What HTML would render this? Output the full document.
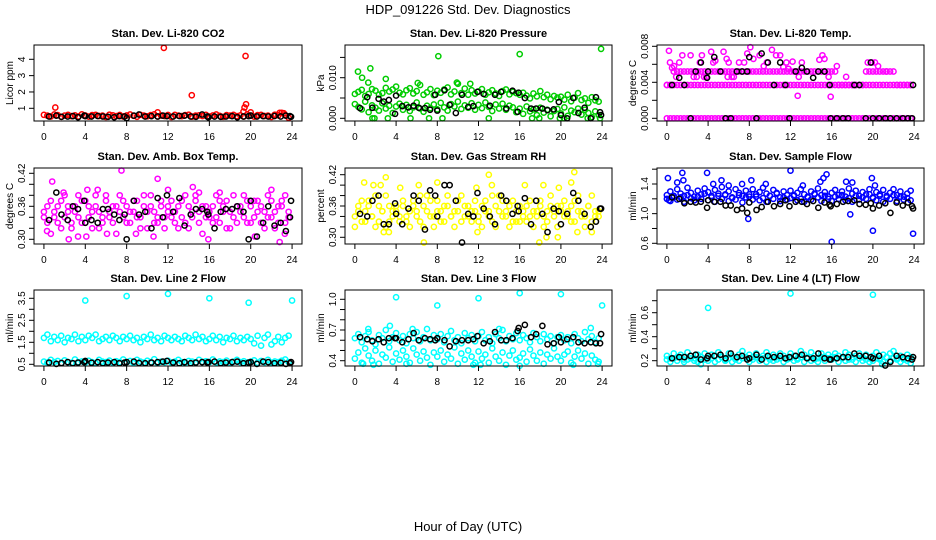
<!DOCTYPE html>
<html><head><meta charset="utf-8"><style>
html,body{margin:0;padding:0;background:#fff;}
svg{display:block;font-family:"Liberation Sans",sans-serif;}
</style></head><body>
<svg id="chart" width="936" height="540" viewBox="0 0 936 540">
<text x="468" y="14" text-anchor="middle" font-size="13">HDP_091226  Std. Dev. Diagnostics</text>
<text x="468" y="531" text-anchor="middle" font-size="13">Hour of Day (UTC)</text>
</svg>
<script>
// shared sampling: colored series are sampled every 1/3 hour (index/3)
const blackHours=[0.5,1.2,1.7,2.3,2.8,3.3,3.9,4.0,4.6,5.2,5.7,6.2,6.8,7.3,7.8,8.0,8.7,9.2,9.8,10.4,11.0,11.5,11.9,12.5,13.1,13.6,14.2,14.7,15.3,15.8,15.9,16.5,17.1,17.6,18.2,18.7,19.3,19.8,20.0,20.6,21.2,21.7,22.3,22.9,23.4,23.8,23.9];
const xTicks=[0,4,8,12,16,20,24];

// Panel 1: CO2
const co2Main=[.6,.55,.5,.62,.58,.48,.55,.6,.52,.57,.5,.63,.56,.49,.58,.6,.53,.55,.47,.61,.57,.52,.59,.5,.56,.62,.54,.48,.6,.55,.51,.58,.63,.5,.56,.53,.59,.47,.6,.55,.52,.58,.61,.49,.55,.57,.53,.6,.5,.56,.62,.54,.48,.58,.55,.6,.52,.57,.5,.63,.56,.49,.58,.6,.53,.55,.47,.61,.57,.72,.59,.42];
const co2OutHours=[1.1,11.6,11,14.3,19.3,19.4,19.55,19.5,20,22.8,23.2];
const co2OutVals=[1.05,4.7,.75,1.8,.8,1.05,1.25,4.2,.75,.72,.7];
const co2Black=[.5,.55,.48,.5,.52,.45,.55,.52,.5,.53,.5,.48,.45,.52,.5,.4,.55,.62,.5,.52,.5,.55,.52,.5,.53,.55,.5,.48,.62,.5,.45,.5,.48,.5,.52,.45,.5,.52,.55,.5,.52,.5,.53,.5,.55,.52,.48];

// Panel 2: Pressure
const presHigh=[.006,.0065,.007,.0055,.006,.0072,.0068,.0058,.0062,.0075,.0066,.0071,.0078,.0063,.0059,.0069,.0074,.0061,.0067,.0082,.0058,.0064,.0072,.0057,.0068,.0063,.0071,.0076,.0059,.0066,.0085,.0062,.0073,.0058,.0069,.0061,.0066,.0072,.0058,.0064,.0069,.0061,.0055,.0067,.0071,.0059,.0065,.0062,.0058,.0063,.0056,.0049,.0061,.0054,.0067,.0052,.0058,.0047,.0055,.0051,.0053,.0046,.0058,.0042,.0051,.0062,.0045,.0049,.0038,.0052,.0044,.0041];
const presLow=[.0035,.0028,.0022,.0041,.0015,.0032,.0026,.0019,.0037,.0024,.0031,.0013,.0029,.0036,.0021,.0033,.0018,.0027,.0039,.0024,.0016,.0031,.0025,.0034,.0022,.0038,.0027,.0019,.0035,.0029,.0041,.0023,.0032,.0026,.0037,.0021,.0033,.0025,.0039,.0028,.0018,.0034,.0024,.0036,.0021,.0031,.0027,.0015,.0024,.0011,.0029,.0017,.0022,.0008,.0026,.0014,.0021,.0005,.0018,.0023,.0012,.0027,.0006,.0019,.0015,.0024,.0009,.0021,.0013,.0003,.0017,.0008];
const presOutHours=[0.3,0.7,1.5,1.3,3.0,8.1,16,23.9,1.7,1.9,3.2,5.4,7.2,8.5,13,17.2,17.9,19.9,20.3,22.6,23.8,9.9,11.2,6.1];
const presOutVals=[.0115,.0100,.0123,.0088,.0097,.0153,.0158,.0171,0,0,0,0,0,0,0,0,0,0,0,0,0,.0088,.0085,.0087];
const presBlack=[.0025,.0052,.0026,.0048,.0041,.0045,.0011,.0056,.0030,.0027,.0031,.0026,.0025,.0021,.0058,.0019,.0069,.0033,.0013,.0058,.0028,.0030,.0065,.0060,.0031,.0058,.0065,.0024,.0068,.0016,.0063,.0050,.0024,.0024,.0024,.0020,.0022,.0040,.0008,0,.0050,.0013,.0026,0,.0052,.0015,.0008];

// Panel 3: Li-820 Temp
const tempZero=[0,0,0,0,0,0,0,0,0,0,0,0,0,0,0,0,0,0,0,0,0,0,0,0,0,0,0,0,0,0,0,0,0,0,0,0,0,0,0,0,0,0,0,0,0,0,0,0,0,0,0,0,0,0,0,0,0,0,0,0,0,0,0,0,0,0,0,0,0,0,0,0];
const tempMid=[.0037,.0037,.0037,.0037,.0037,.0037,.0037,.0037,.0037,.0037,.0037,.0037,.0037,.0037,.0037,.0037,.0037,.0037,.0037,.0037,.0037,.0037,.0037,.0037,.0037,.0037,.0037,.0037,.0037,.0037,.0037,.0037,.0037,.0037,.0037,.0037,.0037,.0037,.0037,.0037,.0037,.0037,.0037,.0037,.0037,.0037,.0037,.0037,.0037,.0037,.0037,.0037,.0037,.0037,.0037,.0037,.0037,.0037,.0037,.0037,.0037,.0037,.0037,.0037,.0037,.0037,.0037,.0037,.0037,.0037,.0037,.0037];
const tempHigh=[.0037,.0037,.0052,.0052,.0052,.0052,.0052,.0052,.0052,.0052,.0052,.0052,.0052,.0052,.0052,.0052,.0052,.0052,.0052,.0052,.0052,.0052,.0052,.0052,.0052,.0052,.0052,.0052,.0052,.0052,.0052,.0052,.0052,.0052,.0052,.0052,.0052,.0052,.0052,.0052,.0052,.0052,.0052,.0052,.0052,.0052,.0052,.0052,.0052,.0052,.0037,.0037,.0037,.0037,.0037,.0037,.0037,.0037,.0052,.0052,.0052,.0052,.0052,.0052,.0052,.0052,.0052,.0037,.0037,.0037,.0037,.0037];
const tempOutHours=[0.2,0.3,0.5,0.7,1.2,1.5,2.3,2.6,3.2,3.4,3.6,4.3,4.7,5.5,5.8,6.0,6.5,7.0,7.5,8.1,8.4,9.0,9.4,9.7,10.2,10.6,11.0,11.3,11.6,11.8,12.2,12.7,13.1,14.8,15.1,15.3,15.9,16.5,17.4,19.5,19.9,20.2,20.5,21.3,0.9,2.9,3.8,4.5,5.9,6.3,7.8,12.8,15.7];
const tempOutVals=[.0075,.0062,.0056,.0058,.0062,.007,.007,.0046,.0062,.007,.0046,.0074,.0064,.0074,.0066,.0062,.0046,.0062,.0062,.0079,.0066,.007,.0058,.0062,.0076,.007,.007,.0057,.0062,.0055,.0063,.0025,.0062,.0065,.0070,.0066,.0024,.0058,.0046,.0062,.0062,.0062,.0058,.0052,.0046,.0046,.0046,.0062,.0046,.0046,.0072,.0046,.0046];
const tempBlack=[.0037,.0045,.0037,0,.0052,.0062,.0045,.0052,.0068,.0052,0,0,.0052,.0052,.0052,.0068,0,.0072,.0062,.0037,.0062,.0037,0,.0052,.0056,.0052,.0045,.0052,.0052,.0037,0,0,0,0,.0037,.0037,0,.0062,0,0,0,0,0,0,0,0,.0037];

// Panel 4: Amb Box Temp
const ambA=[.35,.33,.37,.34,.36,.32,.38,.35,.33,.36,.34,.37,.33,.36,.35,.38,.32,.34,.37,.35,.33,.36,.38,.34,.36,.33,.35,.37,.34,.38,.32,.36,.35,.33,.37,.34,.35,.37,.33,.36,.34,.38,.32,.35,.37,.33,.36,.34,.34,.36,.38,.33,.35,.37,.32,.34,.36,.35,.38,.33,.36,.34,.37,.33,.35,.38,.34,.32,.36,.37,.33,.35];
const ambB=[.34,.36,.31,.35,.33,.37,.34,.36,.32,.35,.38,.33,.37,.34,.32,.36,.35,.33,.38,.34,.36,.31,.35,.37,.33,.35,.37,.34,.32,.36,.35,.38,.33,.34,.36,.32,.36,.34,.35,.32,.37,.33,.36,.34,.38,.35,.31,.36,.35,.33,.34,.37,.36,.32,.35,.38,.33,.36,.34,.37,.33,.37,.35,.36,.32,.34,.37,.35,.33,.36,.38,.34];
const ambOutHours=[0.8,1.9,4.2,5.2,7.5,11.0,12.0,14.4,15.0,17.0,22.0,0.3,2.4,3.3,4.1,10.6,15.9,22.8,20.4,23.3,6.1,8.9];
const ambOutVals=[.405,.385,.39,.39,.425,.41,.39,.395,.385,.385,.39,.315,.30,.305,.305,.305,.30,.295,.305,.31,.31,.31];
const ambBlack=[.335,.385,.345,.335,.36,.355,.37,.33,.335,.33,.355,.355,.345,.335,.345,.30,.37,.345,.35,.32,.375,.34,.38,.35,.375,.325,.345,.355,.355,.35,.345,.32,.35,.355,.355,.36,.35,.30,.37,.305,.33,.36,.325,.33,.315,.34,.37];

// Panel 5: Gas Stream RH
const rhA=[.34,.36,.33,.35,.37,.34,.32,.36,.35,.38,.33,.35,.36,.34,.37,.33,.35,.36,.34,.38,.32,.35,.37,.34,.35,.33,.36,.38,.34,.35,.37,.33,.36,.34,.35,.37,.33,.36,.35,.34,.38,.32,.35,.37,.34,.36,.33,.35,.36,.34,.33,.37,.35,.34,.36,.32,.35,.38,.34,.36,.35,.37,.34,.36,.33,.38,.35,.34,.36,.33,.35,.34];
const rhB=[.32,.35,.37,.33,.36,.34,.38,.33,.35,.32,.36,.34,.35,.33,.36,.34,.32,.37,.35,.33,.36,.38,.34,.32,.37,.35,.33,.36,.34,.32,.35,.38,.34,.36,.33,.35,.34,.32,.37,.35,.33,.36,.38,.34,.35,.32,.37,.33,.33,.35,.36,.34,.32,.35,.37,.34,.33,.36,.35,.32,.36,.34,.35,.33,.37,.35,.34,.32,.36,.38,.34,.35];
const rhOutHours=[0.9,1.8,2.5,3.0,4.4,6.2,8.0,11.8,13.0,13.3,16.5,18.3,19.8,21.0,21.3,6.7,17.9,18.6,19.7,2.8,3.3,11.9,21.6,23.0];
const rhOutVals=[.405,.40,.40,.415,.395,.40,.405,.395,.42,.40,.40,.40,.395,.405,.425,.29,.29,.30,.30,.31,.31,.31,.31,.31];
const rhBlack=[.345,.34,.37,.38,.325,.325,.365,.345,.325,.355,.38,.37,.315,.39,.38,.34,.40,.40,.37,.29,.345,.34,.385,.355,.34,.325,.38,.37,.345,.36,.35,.375,.325,.37,.345,.31,.355,.35,.325,.345,.385,.37,.345,.32,.33,.355,.355];

// Panel 6: Sample Flow
const flowA=[1.25,1.3,1.22,1.33,1.27,1.24,1.35,1.28,1.23,1.31,1.26,1.34,1.29,1.24,1.32,1.27,1.36,1.25,1.3,1.22,1.33,1.28,1.24,1.31,1.26,1.33,1.23,1.29,1.35,1.27,1.24,1.32,1.28,1.22,1.3,1.25,1.31,1.24,1.28,1.33,1.26,1.22,1.3,1.27,1.34,1.25,1.29,1.23,1.28,1.32,1.25,1.3,1.23,1.34,1.27,1.31,1.24,1.29,1.26,1.33,1.22,1.29,1.26,1.32,1.24,1.28,1.33,1.25,1.3,1.23,1.27,1.31];
const flowB=[1.2,1.17,1.24,1.19,1.22,1.16,1.25,1.21,1.18,1.23,1.2,1.27,1.18,1.22,1.16,1.24,1.2,1.26,1.17,1.21,1.19,1.25,1.15,1.22,1.23,1.19,1.26,1.18,1.21,1.16,1.24,1.2,1.27,1.17,1.22,1.19,1.21,1.25,1.18,1.2,1.16,1.23,1.19,1.26,1.22,1.17,1.24,1.2,1.17,1.23,1.2,1.25,1.18,1.21,1.16,1.24,1.19,1.22,1.2,1.26,1.21,1.18,1.24,1.16,1.22,1.2,1.25,1.17,1.23,1.19,1.21,1.18];
const flowOutHours=[0.1,1.0,1.5,1.6,3.9,4.5,5.3,6.0,7.3,8.2,9.6,12.0,13.2,14.9,15.2,15.5,17.4,17.8,18.0,19.9,20.2,0.2,7.9,16.0,20.0,23.9];
const flowOutVals=[1.48,1.42,1.55,1.45,1.55,1.4,1.45,1.38,1.4,1.45,1.4,1.58,1.38,1.43,1.48,1.53,1.43,0.99,1.42,1.48,1.38,1.18,0.93,0.62,0.77,0.73];
const flowBlack=[1.22,1.2,1.14,1.16,1.15,1.16,1.08,1.18,1.16,1.16,1.11,1.11,1.05,1.07,1.01,1.15,1.05,1.09,1.16,1.1,1.13,1.18,1.1,1.16,1.16,1.13,1.17,1.08,1.15,1.12,1.1,1.13,1.16,1.17,1.18,1.13,1.12,1.14,1.07,1.11,1.14,1.01,1.15,1.11,1.15,1.1,1.07];

// Panel 7: Line 2 Flow
const l2A=[1.7,1.85,1.55,1.75,1.6,1.8,1.5,1.7,1.65,1.85,1.55,1.75,1.6,1.8,1.7,1.85,1.55,1.65,1.75,1.6,1.8,1.7,1.55,1.75,1.65,1.8,1.6,1.7,1.5,1.75,1.65,1.85,1.6,1.7,1.55,1.8,1.7,1.6,1.75,1.65,1.55,1.8,1.7,1.6,1.85,1.65,1.75,1.55,1.65,1.8,1.6,1.75,1.5,1.7,1.65,1.8,1.55,1.7,1.6,1.75,1.65,1.45,1.8,1.35,1.7,1.85,1.4,1.55,1.75,1.5,1.7,1.8];
const l2B=[.62,.58,.7,.6,.65,.55,.68,.6,.57,.72,.6,.63,.58,.66,.6,.55,.7,.62,.6,.67,.57,.64,.6,.72,.6,.65,.57,.7,.62,.58,.66,.6,.73,.56,.62,.6,.66,.58,.62,.7,.6,.57,.65,.62,.59,.7,.61,.64,.6,.72,.58,.63,.6,.67,.56,.62,.7,.6,.64,.58,.62,.68,.57,.65,.6,.7,.58,.63,.6,.66,.72,.6];
const l2OutHours=[4,8,12,16,19.8,24];
const l2OutVals=[3.4,3.6,3.7,3.5,3.3,3.4];
const l2Black=[.58,.52,.56,.6,.55,.58,.6,.65,.57,.6,.55,.58,.6,.55,.58,.6,.62,.56,.55,.58,.6,.62,.65,.58,.55,.6,.55,.58,.6,.58,.6,.62,.55,.58,.6,.62,.55,.58,.6,.52,.62,.6,.55,.57,.52,.55,.6];

// Panel 8: Line 3 Flow
const l3A=[.62,.66,.58,.64,.68,.6,.56,.65,.62,.7,.59,.63,.67,.6,.64,.57,.66,.62,.68,.59,.63,.71,.6,.65,.61,.66,.58,.64,.69,.6,.63,.57,.67,.62,.65,.59,.64,.68,.6,.63,.57,.66,.62,.7,.59,.64,.61,.67,.6,.65,.62,.58,.67,.63,.59,.66,.61,.64,.57,.63,.65,.6,.63,.57,.66,.62,.59,.68,.61,.64,.58,.62];
const l3B=[.42,.48,.38,.52,.45,.4,.5,.37,.46,.43,.53,.39,.47,.41,.5,.44,.38,.52,.46,.4,.49,.43,.36,.48,.44,.5,.39,.46,.42,.53,.37,.47,.41,.5,.44,.38,.49,.42,.46,.38,.52,.44,.4,.48,.36,.45,.5,.41,.43,.47,.39,.51,.45,.4,.48,.37,.46,.42,.52,.44,.4,.46,.49,.38,.44,.5,.42,.47,.37,.45,.41,.39];
const l3OutHours=[4,8,12,16,20,24,1.3,3.4,5.6,14,22.9,0.8,1.8,5.0,11.5,12.2,16.0,21.2,23.6];
const l3OutVals=[1.02,.94,1.01,1.06,1.05,.94,.71,.74,.71,.71,.72,.37,.36,.37,.36,.36,.35,.36,.37];
const l3Black=[.63,.61,.59,.61,.58,.62,.62,.62,.58,.61,.67,.6,.62,.61,.6,.62,.6,.54,.59,.6,.6,.61,.64,.57,.59,.68,.6,.6,.62,.69,.72,.75,.63,.66,.74,.56,.57,.63,.58,.61,.63,.58,.57,.58,.57,.57,.66];

// Panel 9: Line 4 Flow
const l4A=[.24,.22,.26,.23,.25,.21,.27,.24,.22,.25,.23,.26,.22,.25,.24,.27,.23,.21,.26,.24,.22,.25,.28,.23,.25,.23,.26,.22,.24,.27,.23,.25,.21,.26,.24,.22,.26,.24,.22,.28,.25,.23,.27,.24,.22,.26,.23,.25,.23,.26,.24,.22,.27,.25,.21,.24,.26,.23,.25,.22,.24,.27,.22,.25,.23,.26,.28,.22,.24,.21,.25,.23];
const l4B=[.21,.19,.22,.2,.23,.19,.21,.22,.2,.19,.23,.21,.2,.22,.19,.21,.23,.2,.22,.19,.21,.2,.22,.23,.19,.21,.23,.2,.22,.19,.21,.2,.23,.22,.19,.21,.22,.2,.21,.23,.19,.22,.2,.21,.19,.23,.2,.22,.21,.23,.19,.22,.2,.21,.23,.19,.22,.2,.21,.19,.2,.22,.21,.19,.23,.2,.22,.21,.19,.22,.2,.18];
const l4OutHours=[4.0,12.0,20.0,3.3,20.9];
const l4OutVals=[.64,.76,.75,.17,.17];
const l4Black=[.22,.23,.23,.24,.25,.21,.22,.24,.24,.25,.22,.26,.23,.24,.21,.22,.25,.21,.24,.23,.24,.22,.23,.24,.25,.22,.22,.26,.22,.21,.21,.22,.23,.23,.26,.24,.24,.23,.22,.24,.16,.19,.24,.23,.22,.21,.23];

const svg=document.getElementById('chart');
const NS='http://www.w3.org/2000/svg';
function mk(tag,attrs,parent){const e=document.createElementNS(NS,tag);for(const k in attrs)e.setAttribute(k,attrs[k]);(parent||svg).appendChild(e);return e;}

// layout: plot boxes; y scale defined by two reference ticks (value->pixel)
const cols=[{l:34,r:302},{l:345,r:612},{l:657,r:924}];
const rows=[{t:45,b:121},{t:168,b:244},{t:290,b:366}];
const panels=[
 {title:'Stan. Dev. Li-820 CO2',ylab:'Licor ppm',col:'#ff0000',c:0,r:0,t1:1,p1:108.3,t2:4,p2:59.3,ticks:[1,2,3,4],labels:['1','2','3','4'],series:[co2Main],oh:co2OutHours,ov:co2OutVals,blk:co2Black,key:'co2'},
 {title:'Stan. Dev. Li-820 Pressure',ylab:'kPa',col:'#00cd00',c:1,r:0,t1:0,p1:118.3,t2:0.01,p2:77.7,ticks:[0,0.005,0.01,0.015],labels:['0.000','','0.010',''],series:[presHigh,presLow],oh:presOutHours,ov:presOutVals,blk:presBlack,key:'pressure'},
 {title:'Stan. Dev. Li-820 Temp.',ylab:'degrees C',col:'#ff00ff',c:2,r:0,t1:0,p1:118.3,t2:0.008,p2:46.3,ticks:[0,0.002,0.004,0.006,0.008],labels:['0.000','','0.004','','0.008'],series:[tempZero,tempMid,tempHigh],oh:tempOutHours,ov:tempOutVals,blk:tempBlack,key:'li820-temp'},
 {title:'Stan. Dev. Amb. Box Temp.',ylab:'degrees C',col:'#ff00ff',c:0,r:1,t1:0.30,p1:239.3,t2:0.42,p2:173.3,ticks:[0.30,0.32,0.34,0.36,0.38,0.40,0.42],labels:['0.30','','','0.36','','','0.42'],series:[ambA,ambB],oh:ambOutHours,ov:ambOutVals,blk:ambBlack,key:'amb-box-temp'},
 {title:'Stan. Dev. Gas Stream RH',ylab:'percent',col:'#ffff00',c:1,r:1,t1:0.30,p1:237.3,t2:0.42,p2:174.7,ticks:[0.30,0.32,0.34,0.36,0.38,0.40,0.42],labels:['0.30','','','0.36','','','0.42'],series:[rhA,rhB],oh:rhOutHours,ov:rhOutVals,blk:rhBlack,key:'gas-rh'},
 {title:'Stan. Dev. Sample Flow',ylab:'ml/min',col:'#0000ff',c:2,r:1,t1:0.6,p1:243.3,t2:1.4,p2:184,ticks:[0.6,0.8,1.0,1.2,1.4,1.6],labels:['0.6','','1.0','','1.4',''],series:[flowA,flowB],oh:flowOutHours,ov:flowOutVals,blk:flowBlack,key:'sample-flow'},
 {title:'Stan. Dev. Line 2 Flow',ylab:'ml/min',col:'#00ffff',c:0,r:2,t1:0.5,p1:364.3,t2:3.5,p2:298.3,ticks:[0.5,1,1.5,2,2.5,3,3.5],labels:['0.5','','1.5','','2.5','','3.5'],series:[l2A,l2B],oh:l2OutHours,ov:l2OutVals,blk:l2Black,key:'line2-flow'},
 {title:'Stan. Dev. Line 3 Flow',ylab:'ml/min',col:'#00ffff',c:1,r:2,t1:0.4,p1:360.7,t2:1.0,p2:299.3,ticks:[0.4,0.5,0.6,0.7,0.8,0.9,1.0],labels:['0.4','','','0.7','','','1.0'],series:[l3A,l3B],oh:l3OutHours,ov:l3OutVals,blk:l3Black,key:'line3-flow'},
 {title:'Stan. Dev. Line 4 (LT) Flow',ylab:'ml/min',col:'#00ffff',c:2,r:2,t1:0.2,p1:360.7,t2:0.6,p2:312.7,ticks:[0.2,0.3,0.4,0.5,0.6,0.7],labels:['0.2','','0.4','','0.6',''],series:[l4A,l4B],oh:l4OutHours,ov:l4OutVals,blk:l4Black,key:'line4-flow'}
];

panels.forEach(p=>{
  const L=cols[p.c].l,R=cols[p.c].r,T=rows[p.r].t,B=rows[p.r].b;
  const xs=h=>L+(h+0.96)*(R-L)/25.92;
  const ys=v=>p.p1+(v-p.t1)*(p.p2-p.p1)/(p.t2-p.t1);
  const g=mk('g',{});
  
  
  const t=mk('text',{x:(L+R)/2,y:T-8,'text-anchor':'middle','font-size':'11','font-weight':'bold'},g);t.textContent=p.title;
  
  
  const yl=mk('text',{transform:`translate(${L-21},${(T+B)/2}) rotate(-90)`,'text-anchor':'middle','font-size':'10'},g);yl.textContent=p.ylab;
  
  
  // points
  const pts=mk('g',{fill:'none','stroke-width':'1.5'},g);
  
  
  p.series.forEach(s=>s.forEach((v,i)=>{
    const c=mk('circle',{cx:xs(i/3),cy:ys(v),r:2.6,stroke:p.col},pts);
    
    
  }));
  p.oh.forEach((h,i)=>{
    const c=mk('circle',{cx:xs(h),cy:ys(p.ov[i]),r:2.6,stroke:p.col},pts);
    
    
  });
  p.blk.forEach((v,i)=>{
    const c=mk('circle',{cx:xs(blackHours[i]),cy:ys(v),r:2.6,stroke:'#000'},pts);
    
    
  });
  // box
  const box=mk('rect',{x:L,y:T,width:R-L,height:B-T,fill:'none',stroke:'#000','stroke-width':'1'},g);
  
  
  // x axis
  mk('line',{x1:xs(0),x2:xs(24),y1:B,y2:B,stroke:'#000'},g);
  xTicks.forEach(h=>{
    mk('line',{x1:xs(h),x2:xs(h),y1:B,y2:B+5,stroke:'#000'},g);
    const tl=mk('text',{x:xs(h),y:B+19,'text-anchor':'middle','font-size':'10'},g);tl.textContent=h;
    
    
  });
  // y axis
  mk('line',{x1:L,x2:L,y1:ys(p.ticks[0]),y2:ys(p.ticks[p.ticks.length-1]),stroke:'#000'},g);
  p.ticks.forEach((v,i)=>{
    const y=ys(v);
    mk('line',{x1:L-5,x2:L,y1:y,y2:y,stroke:'#000'},g);
    if(p.labels[i]){
      const tl=mk('text',{transform:`translate(${L-9},${y}) rotate(-90)`,'text-anchor':'middle','font-size':'10'},g);tl.textContent=p.labels[i];
      
      
    }
  });
});
</script>
</body></html>
